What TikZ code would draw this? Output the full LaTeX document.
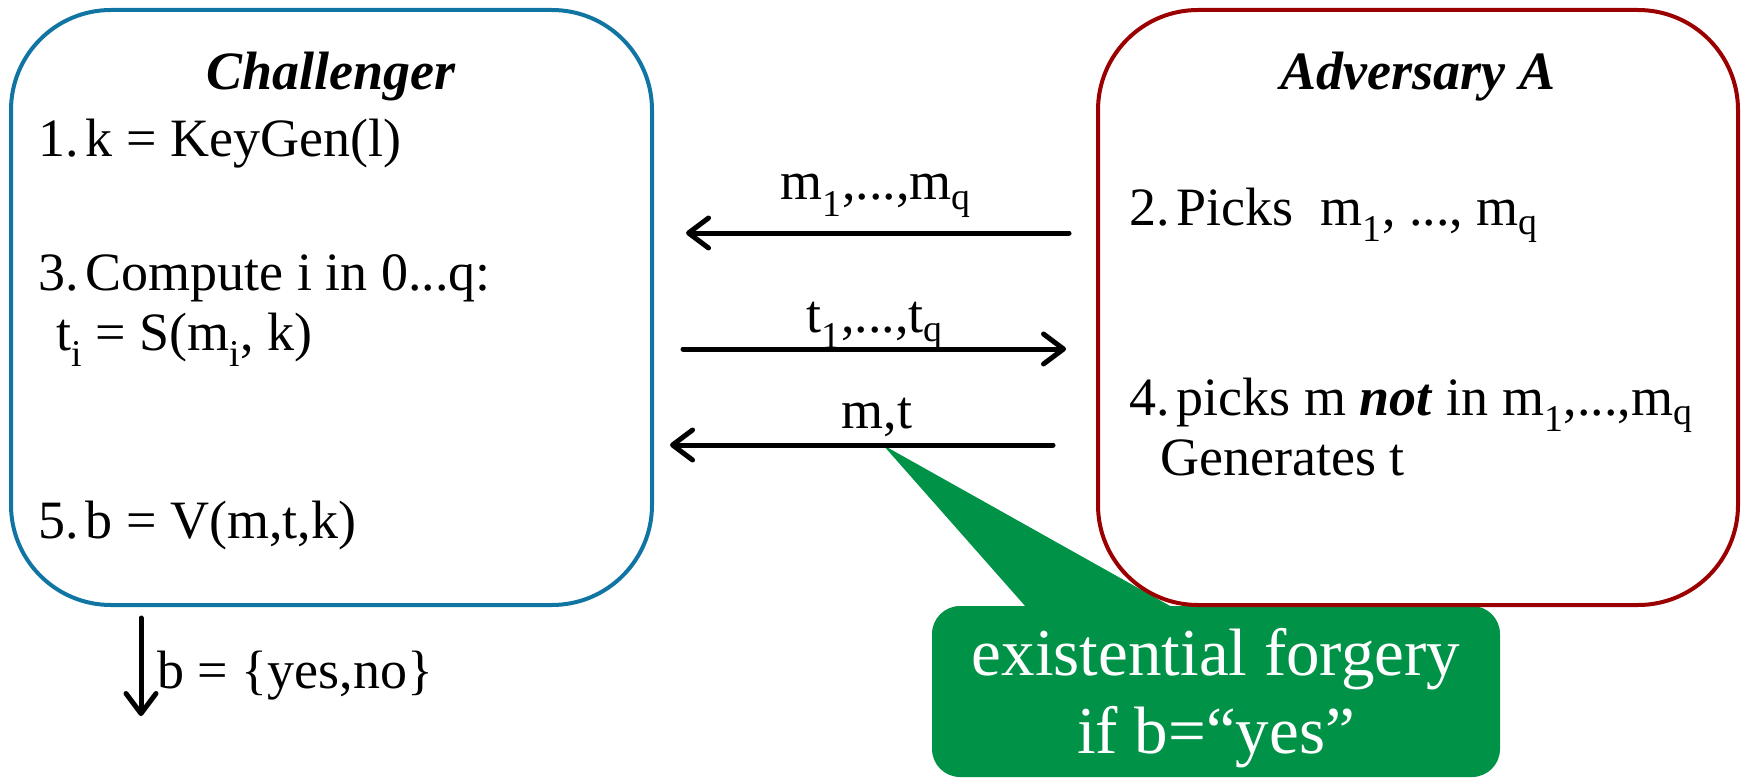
\documentclass[tikz,border=0pt]{standalone}
\usepackage{fontspec}
\setmainfont{Liberation Serif}
\usetikzlibrary{arrows.meta}
\definecolor{chblue}{RGB}{16,117,163}
\definecolor{advred}{RGB}{155,0,0}
\definecolor{callgreen}{RGB}{0,147,72}
\newcommand{\sbs}[1]{\textsubscript{#1}}
\newcommand{\stepno}[1]{#1.\kern-0.12em\ }
\begin{document}
\begin{tikzpicture}[x=1pt,y=-1pt,
  txt/.style={anchor=base west, inner sep=0pt, font=\fontsize{54}{60}\selectfont},
  ttl/.style={anchor=base, inner sep=0pt, font=\fontsize{54}{60}\selectfont\bfseries\itshape},
  lbl/.style={anchor=base, inner sep=0pt, font=\fontsize{54}{60}\selectfont},
  note/.style={anchor=base, inner sep=0pt, text=white, font=\fontsize{67}{78}\selectfont},
  msg/.style={line width=5pt, line cap=round, -{Straight Barb[length=20pt,width=30pt,round]}},
  party/.style={line width=4pt, rounded corners=100pt}]
\useasboundingbox (0,0) rectangle (1744,778);

% callout
\fill[callgreen] (883,445) -- (1026,607) -- (1172,607) -- cycle;
\fill[callgreen, rounded corners=28pt] (932,606) rectangle (1500,777);

% party boxes
\draw[party, chblue] (11,10) rectangle (652,605);
\draw[party, advred] (1098,10) rectangle (1738,605);

% challenger text
\node[ttl] (chT) at (331,90) {Challenger};
\node[txt] (c1) at (38,157) {\stepno{1}k = KeyGen(l)};
\node[txt] (c3) at (38,290) {\stepno{3}Compute i in 0...q:};
\node[txt] (c3b) at (56,350) {t\sbs{i} = S(m\sbs{i}, k)};
\node[txt] (c5) at (38,538) {\stepno{5}b = V(m,t,k)};

% adversary text
\node[ttl] (adT) at (1418,90) {Adversary A};
\node[txt] (a2) at (1129,225) {\stepno{2}Picks\ \ m\sbs{1}, ..., m\sbs{q}};
\node[txt] (a4) at (1129,415) {\stepno{4}picks m \textbf{\textit{not}} in m\sbs{1},...,m\sbs{q}};
\node[txt] (a4b) at (1160,475) {Generates t};

% messages
\coordinate (m1s) at (1069,233);
\coordinate (m1e) at (686,233);
\coordinate (m2s) at (683,349);
\coordinate (m2e) at (1066,349);
\coordinate (m3s) at (1053,445);
\coordinate (m3e) at (670,445);
\draw[msg] (m1s) -- (m1e);
\draw[msg] (m2s) -- (m2e);
\draw[msg] (m3s) -- (m3e);
\node[lbl] (l1) at (876,200) {m\sbs{1},...,m\sbs{q}};
\node[lbl] (l2) at (875,332) {t\sbs{1},...,t\sbs{q}};
\node[lbl] (l3) at (877,428) {m,t};

% output
\coordinate (os) at (141,618);
\coordinate (oe) at (141,716);
\draw[msg] (os) -- (oe);
\node[txt] (out) at (157,688) {b = \{yes,no\}};

% callout text
\node[note] (n1) at (1216,675) {existential forgery};
\node[note] (n2) at (1216,753) {if b=“yes”};
\end{tikzpicture}
\end{document}
